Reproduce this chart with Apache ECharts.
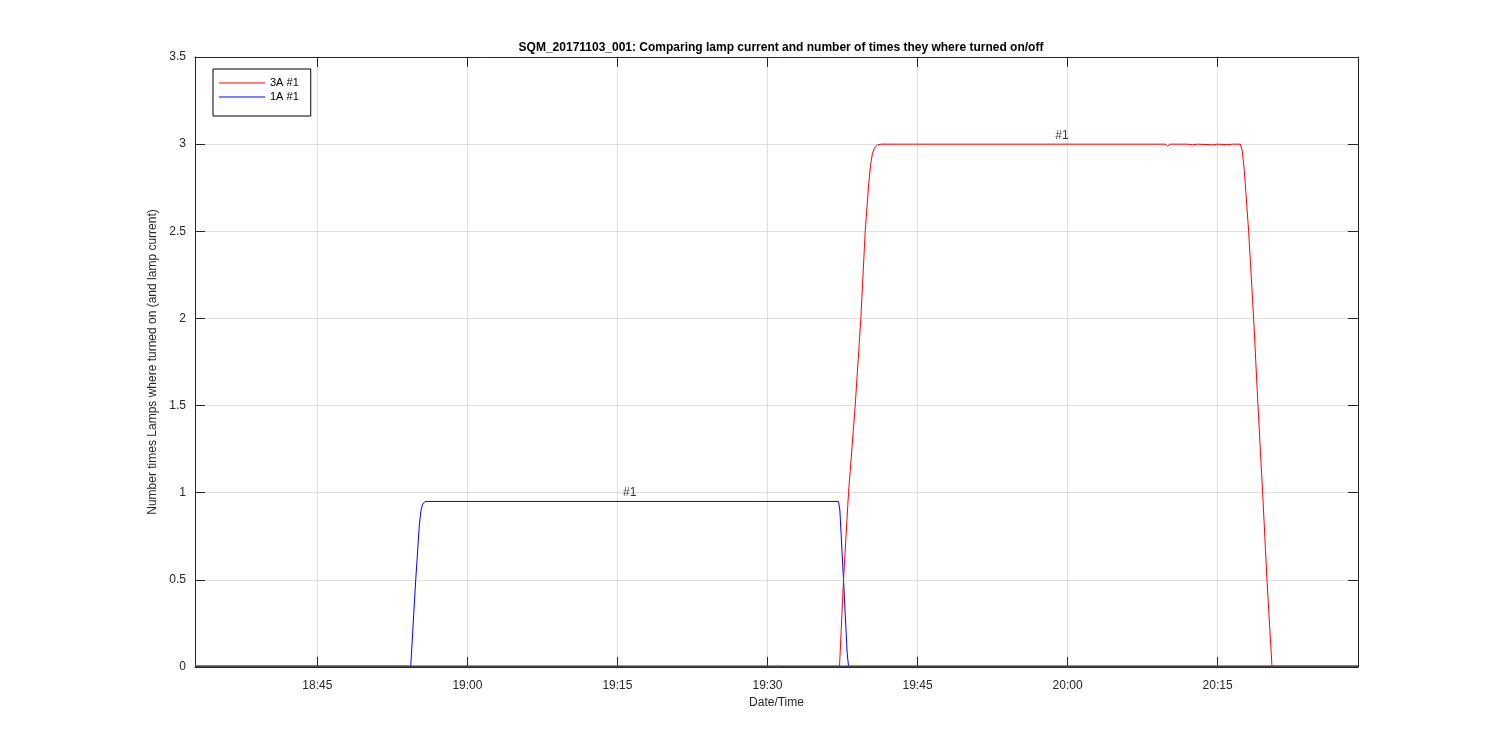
<!DOCTYPE html>
<html>
<head>
<meta charset="utf-8">
<script src="https://cdn.jsdelivr.net/npm/echarts@6/dist/echarts.min.js"></script>
<style>
html,body{margin:0;padding:0;background:#fff;}
#chart{width:1500px;height:750px;}
</style>
</head>
<body>
<div id="chart"></div>
<script>
// ---- data (times as HH:MM:SS) ----
const titleText = 'SQM_20171103_001: Comparing lamp current and number of times they where turned on/off';
const xTickLabels = ['18:45', '19:00', '19:15', '19:30', '19:45', '20:00', '20:15'];
const yTicks = [0, 0.5, 1, 1.5, 2, 2.5, 3, 3.5];
const xRange = ['18:32:46', '20:29:02'];

const redTimes = ['18:32:46', '19:37:12', '19:37:36', '19:38:06', '19:38:46', '19:39:20', '19:39:46',
  '19:40:06', '19:40:18', '19:40:30', '19:40:44', '19:41:00', '19:41:24', '20:09:45', '20:10:00', '20:10:15',
  '20:12:00', '20:12:30', '20:13:00', '20:14:30', '20:15:00', '20:16:00', '20:16:30', '20:17:16',
  '20:17:28', '20:17:40', '20:18:06', '20:18:36', '20:19:02', '20:19:30', '20:19:56', '20:20:26', '20:29:02'];
const redValues = [0.004, 0.004, 0.5, 1.0, 1.5, 2.0, 2.5,
  2.76, 2.88, 2.95, 2.982, 2.996, 3.0, 3.0, 2.988, 3.0,
  3.0, 2.996, 3.0, 2.996, 3.0, 2.997, 3.0, 3.0,
  2.96, 2.85, 2.5, 2.0, 1.5, 1.0, 0.5, 0.004, 0.004];

const blueTimes = ['18:32:46', '18:54:20', '18:54:50', '18:55:12', '18:55:22', '18:55:32', '18:55:46',
  '19:37:06', '19:37:14', '19:37:36', '19:37:58', '19:38:06', '20:29:02'];
const blueValues = [0.004, 0.004, 0.5, 0.82, 0.9, 0.935, 0.95,
  0.95, 0.9, 0.5, 0.08, 0.004, 0.004];

const zeroTimes = ['18:32:46', '20:29:02'];
const zeroValues = [0.004, 0.004];

const noteTimes = ['19:16:14', '19:59:26'];
const noteValues = [1.0, 3.05];
const noteTexts = ['#1', '#1'];

// ---- helpers ----
function toMin(s) { const p = s.split(':').map(Number); return p[0] * 60 + p[1] + (p[2] || 0) / 60; }
function fmt(m) { const h = Math.floor(m / 60); const mm = Math.round(m - h * 60); return h + ':' + (mm < 10 ? '0' : '') + mm; }
const pairs = (t, v) => t.map((s, i) => [toMin(s), v[i]]);
const xTickValues = xTickLabels.map(toMin);
const xMin = toMin(xRange[0]), xMax = toMin(xRange[1]);

const axisColor = '#262626';
const gridColor = '#dfdfdf';
const red = '#ff0000', blue = '#0000ff';
const font = 'Liberation Sans, Arial, Helvetica, sans-serif';

const chart = echarts.init(document.getElementById('chart'), null, { renderer: 'canvas' });
chart.setOption({
  animation: false,
  backgroundColor: '#fff',
  title: {
    text: titleText, left: 776, top: 37, textAlign: 'center',
    textStyle: { fontFamily: font, fontSize: 12, fontWeight: 'bold', color: '#000' }
  },
  legend: {
    data: [
      { name: '3A #1', icon: 'rect', itemStyle: { color: red } },
      { name: '1A #1', icon: 'rect', itemStyle: { color: blue } }
    ],
    orient: 'vertical', left: 213, top: 69,
    backgroundColor: '#fff', borderColor: '#000', borderWidth: 1, borderRadius: 0,
    padding: [8, 12, 13, 6], itemGap: 2, itemWidth: 46, itemHeight: 1,
    textStyle: { fontFamily: font, fontSize: 11, color: '#000', lineHeight: 12 }
  },
  grid: { left: 195, right: 142, top: 57, bottom: 83, containLabel: false },
  xAxis: [{
    type: 'value', min: xMin, max: xMax, position: 'bottom',
    name: 'Date/Time', nameLocation: 'middle', nameGap: 30,
    nameTextStyle: { fontFamily: font, fontSize: 12, color: axisColor },
    axisLine: { show: true, lineStyle: { color: axisColor, width: 1 } },
    axisTick: { show: true, inside: true, length: 10, customValues: xTickValues, lineStyle: { color: axisColor } },
    axisLabel: { show: true, customValues: xTickValues, formatter: v => fmt(v), margin: 13,
      fontFamily: font, fontSize: 12, color: axisColor },
    splitLine: { show: true, lineStyle: { color: gridColor, width: 1 } }
  }, {
    type: 'value', min: xMin, max: xMax, position: 'top',
    axisLine: { show: true, onZero: false, lineStyle: { color: axisColor, width: 1 } },
    axisTick: { show: true, inside: true, length: 10, customValues: xTickValues, lineStyle: { color: axisColor } },
    axisLabel: { show: false },
    splitLine: { show: false }
  }],
  yAxis: [{
    type: 'value', min: 0, max: 3.5, interval: 0.5, position: 'left',
    name: 'Number times Lamps where turned on (and lamp current)', nameLocation: 'middle', nameGap: 32,
    nameTextStyle: { fontFamily: font, fontSize: 12, color: axisColor },
    axisLine: { show: true, lineStyle: { color: axisColor, width: 1 } },
    axisTick: { show: true, inside: true, length: 10, lineStyle: { color: axisColor } },
    axisLabel: { show: true, margin: 9, fontFamily: font, fontSize: 12, color: axisColor },
    splitLine: { show: true, lineStyle: { color: gridColor, width: 1 } }
  }, {
    type: 'value', min: 0, max: 3.5, interval: 0.5, position: 'right',
    axisLine: { show: true, onZero: false, lineStyle: { color: axisColor, width: 1 } },
    axisTick: { show: true, inside: true, length: 10, lineStyle: { color: axisColor } },
    axisLabel: { show: false },
    splitLine: { show: false }
  }],
  series: [{
    name: '3A #1', type: 'line', data: pairs(redTimes, redValues), symbol: 'none',
    lineStyle: { color: red, width: 1 }, itemStyle: { color: red }, z: 3
  }, {
    name: '1A #1', type: 'line', data: pairs(blueTimes, blueValues), symbol: 'none',
    lineStyle: { color: blue, width: 1 }, itemStyle: { color: blue }, z: 2
  }, {
    name: 'zero', type: 'line', data: pairs(zeroTimes, zeroValues), symbol: 'none',
    lineStyle: { color: '#4a4a4a', width: 1.5 }, z: 4, silent: true
  }, {
    name: 'notes', type: 'scatter', symbolSize: 0, z: 5, silent: true,
    data: noteTimes.map((t, i) => ({ value: [toMin(t), noteValues[i]], label: { formatter: noteTexts[i] } })),
    label: { show: true, position: 'inside', fontFamily: font, fontSize: 12, color: '#000' }
  }]
});
</script>
</body>
</html>
